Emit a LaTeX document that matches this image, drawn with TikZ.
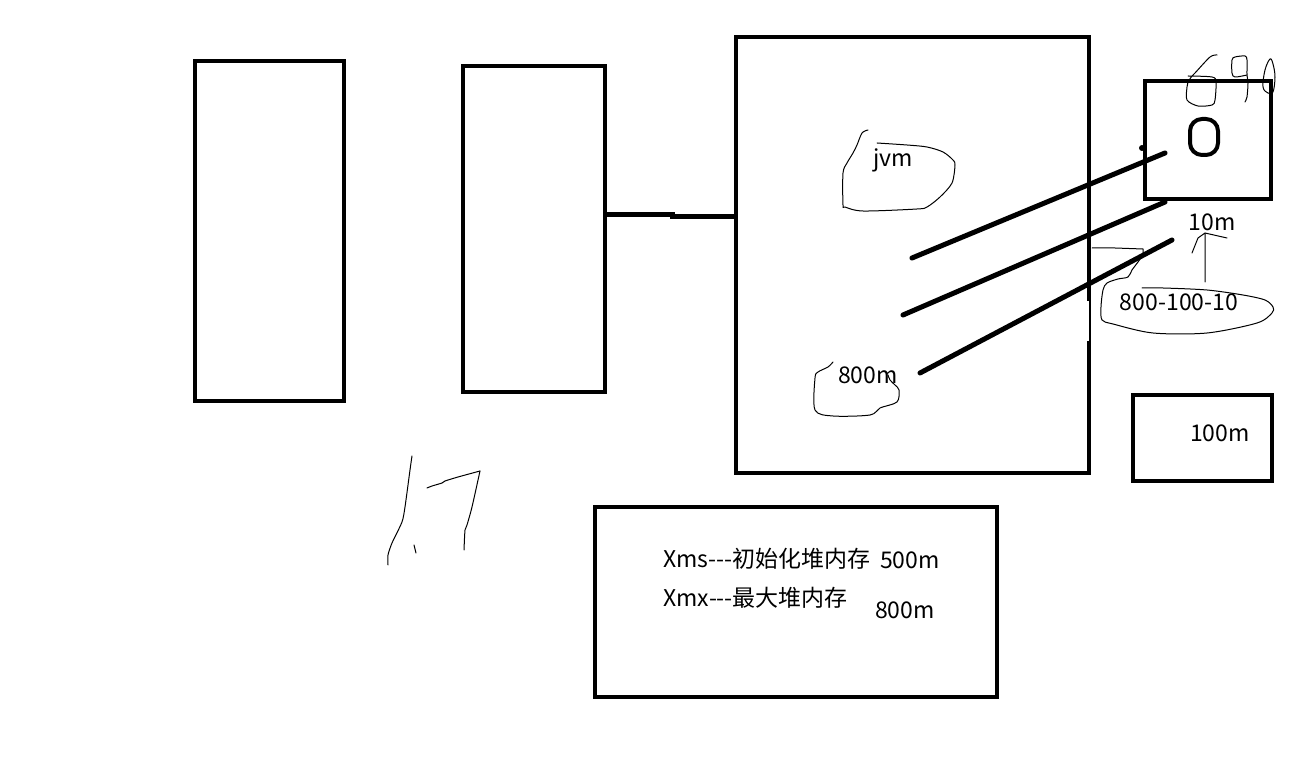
\documentclass[tikz,border=0pt]{standalone}
\usepackage{fontspec}
\setmainfont{Noto Sans CJK SC}
\usetikzlibrary{fit}

\begin{document}
\begin{tikzpicture}[x=0.5pt,y=-0.5pt,font=\fontsize{11.5}{13}\selectfont,
 frame/.style={draw,line width=2pt,inner sep=0pt},
 stroke/.style={line width=2.5pt,line cap=round},
 pen/.style={line width=0.5pt,line cap=round,line join=round},
 lbl/.style={inner sep=0pt}]
\useasboundingbox[fill=white] (0,0) rectangle (1308,775);
% boxes
\node[frame,fit={(195,61) (344,401)}] (colA) {};
\node[frame,fit={(463,66) (605,392)}] (colB) {};
\node[frame,fit={(736,37) (1089,473)}] (heap) {};
\node[frame,fit={(1145,81) (1271,199)}] (sq) {};
\node[frame,rounded corners=6pt,fit={(1190,119) (1218,155)}] (zero) {};
\node[frame,fit={(1133,395) (1272,481)}] (blk) {};
\node[frame,fit={(595,507) (997,697)}] (opts) {};
% gap in the heap's right side
\fill[white] (1086,301) rectangle (1095,341);
\draw[line width=1pt] (1090,301) -- (1090,341);
% link
\draw[stroke,line cap=butt] (colB.east |- 0,215) -- (672,215) -- (672,217) -- (heap.west |- 0,217);
% strokes across the heap
\draw[stroke] (912,258) -- (1165,153);
\draw[stroke] (903,315) -- (1165,202);
\draw[stroke] (920,373) -- (1172,240);
\fill (1142,148) circle[radius=1.5pt];
% labels
\node[lbl] (jvm) at (893,160) {jvm};
\node[lbl] (used) at (868,375) {800m};
\node[lbl] (ten) at (1212,222) {10m};
\node[lbl] (calc) at (1179,302) {800{-}100{-}10};
\node[lbl] (hund) at (1220,433) {100m};
\node[lbl,anchor=west] (xms) at (663,559) {Xms{-}{-}{-}初始化堆内存};
\node[lbl] (xmsv) at (910,560) {500m};
\node[lbl,anchor=west] (xmx) at (663,598) {Xmx{-}{-}{-}最大堆内存};
\node[lbl] (xmxv) at (905,610) {800m};
% freehand
\draw[pen] plot[smooth,tension=0.5] coordinates {(868,130) (862,133) (857,145) (853,153) (847,163) (843,173) (843,205) (845,207) (863,211) (917,209) (927,207) (940,197) (952,183) (955,165) (953,160) (943,152) (927,147) (907,145) (877,143)};
\draw[pen] plot[smooth,tension=0.5] coordinates {(833,362) (828,367) (818,372) (815,378) (815,410) (833,416) (870,415) (880,408) (897,402) (899,390) (895,385) (890,380) (888,375)};
\draw[pen] (1092,248) -- (1115,248) -- (1143,249) -- (1143,255)
 plot[smooth,tension=0.5] coordinates {(1143,255) (1138,262) (1132,270) (1128,277) (1118,279) (1107,283) (1103,290) (1101,307) (1102,320) (1113,324) (1153,333) (1207,333) (1257,323) (1272,313) (1273,307) (1265,300) (1243,295) (1207,290) (1163,288) (1142,288)};
\draw[pen] (1205,282) -- (1205,233) (1192,253) -- (1198,238) -- (1205,233) -- (1227,238);
\draw[pen] plot[smooth,tension=0.5] coordinates {(1217,55) (1210,57) (1195,73) (1192,76) (1188,82) (1187,87) (1187,100) (1198,106) (1212,105) (1215,100) (1216,82) (1212,77) (1188,76)};
\draw[pen] plot[smooth,tension=0.5] coordinates {(1247,75) (1235,77) (1232,73) (1232,60) (1235,57) (1245,56) (1247,60) (1247,75) (1248,83) (1247,97) (1245,102)};
\draw[pen] plot[smooth cycle,tension=0.6] coordinates {(1270,59) (1265,70) (1263,87) (1268,93) (1273,92) (1275,77) (1273,64)};
\draw[pen] plot[smooth,tension=0.4] coordinates {(412,456) (410,470) (405,507) (402,522) (392,543) (388,555) (388,565)};
\draw[pen] (414,545) -- (416,553);
\draw[pen] plot[smooth,tension=0.4] coordinates {(427,488) (432,486) (442,483) (445,481) (458,477) (480,471)};
\draw[pen] plot[smooth,tension=0.4] coordinates {(480,471) (472,507) (467,525) (465,530) (464,550)};
\end{tikzpicture}
\end{document}
